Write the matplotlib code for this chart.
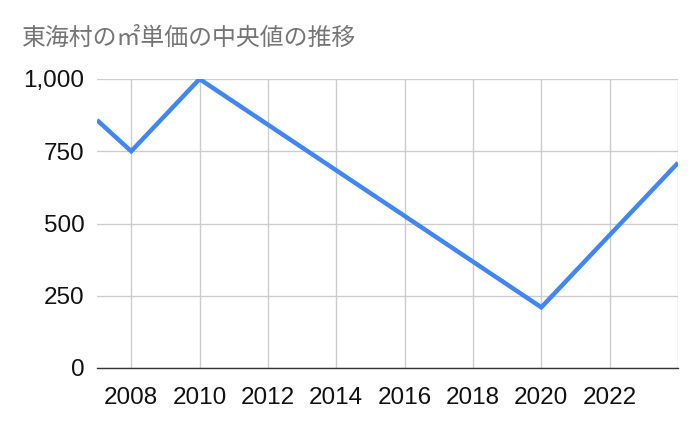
import matplotlib
matplotlib.use("Agg")
import matplotlib.pyplot as plt

# median price per m2 in Tokai village
years = [2007, 2008, 2010, 2020, 2024]
prices = [858, 750, 1000, 210, 710]

x_ticks = [2008, 2010, 2012, 2014, 2016, 2018, 2020, 2022, 2024]
x_labels = ["2008", "2010", "2012", "2014", "2016", "2018", "2020", "2022", ""]
y_ticks = [0, 250, 500, 750, 1000]
y_labels = ["0", "250", "500", "750", "1,000"]

title = "東海村の㎡単価の中央値の推移"

plt.rcParams['font.family'] = ['Liberation Sans', 'Noto Sans CJK JP', 'DejaVu Sans']

fig = plt.figure(figsize=(7, 4.33), dpi=100)
ax = fig.add_axes([97 / 700, 1 - 368 / 433, (678 - 97) / 700, (368 - 79) / 433])

ax.plot(years, prices, color='#4285F4', linewidth=3.2, solid_capstyle='butt',
        solid_joinstyle='miter', clip_on=True, zorder=3)

ax.set_xlim(2007, 2024)
ax.set_ylim(0, 1000)
ax.set_xticks(x_ticks)
ax.set_xticklabels(x_labels)
ax.set_yticks(y_ticks)
ax.set_yticklabels(y_labels)

ax.grid(True, color='#cccccc', linewidth=1)
ax.set_axisbelow(True)
for side in ['top', 'right', 'left']:
    ax.spines[side].set_visible(False)
ax.spines['bottom'].set_color('#333333')
ax.spines['bottom'].set_linewidth(1)
ax.spines['bottom'].set_zorder(4)

ax.tick_params(axis='both', length=0, labelsize=17.5, colors='#111111')
ax.tick_params(axis='x', pad=14)
ax.tick_params(axis='y', pad=9)

fig.text(22 / 700, 1 - 38 / 433, title, fontsize=17.2, color='#757575',
         family=['Noto Sans CJK JP', 'DejaVu Sans'], va='center', ha='left')

fig.savefig("out.png", dpi=100)
